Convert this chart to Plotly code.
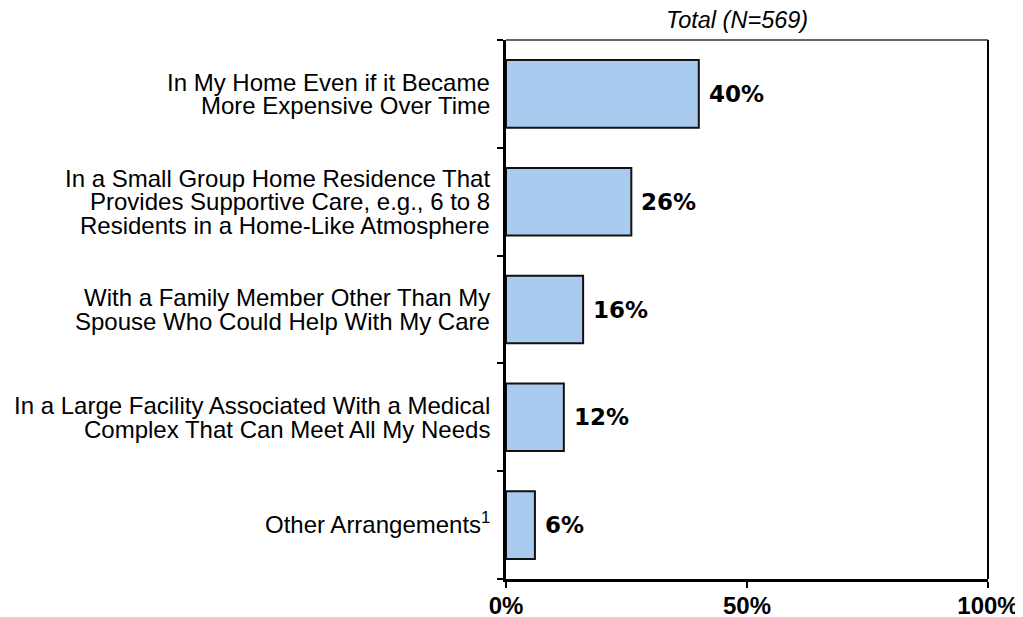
import plotly.graph_objects as go

categories = [
    "In My Home Even if it Became<br>More Expensive Over Time",
    "In a Small Group Home Residence That<br>Provides Supportive Care, e.g., 6 to 8<br>Residents in a Home-Like Atmosphere",
    "With a Family Member Other Than My<br>Spouse Who Could Help With My Care",
    "In a Large Facility Associated With a Medical<br>Complex That Can Meet All My Needs",
    "Other Arrangements<sup>1</sup>",
]
values = [40, 26, 16, 12, 6]
x_tick_vals = [0, 50, 100]
x_tick_text = ["0%", "50%", "100%"]
title_text = "Total (N=569)"

BAR_COLOR = "#A9CBEF"
LABEL_FONT = "Liberation Sans, Arial, sans-serif"
VALUE_FONT = "DejaVu Sans, sans-serif"

fig = go.Figure()
fig.add_trace(go.Bar(
    x=values,
    y=list(range(len(categories))),
    orientation="h",
    marker=dict(color=BAR_COLOR, line=dict(color="#111111", width=2)),
    hoverinfo="skip",
    showlegend=False,
))

annotations = []
# value labels
for i, v in enumerate(values):
    annotations.append(dict(
        x=v, y=i, xref="x", yref="y", text=f"<b>{v}%</b>",
        showarrow=False, xanchor="left", yanchor="middle", xshift=8,
        font=dict(family=VALUE_FONT, size=23, color="black"),
    ))
# category labels, one annotation per line for tight line spacing
LINE_H = 23.4
for i, cat in enumerate(categories):
    lines = cat.split("<br>")
    n = len(lines)
    for j, ln in enumerate(lines):
        annotations.append(dict(
            x=0, y=i, xref="paper", yref="y", text=ln,
            showarrow=False, xanchor="right", yanchor="middle",
            xshift=-14, yshift=((n - 1) / 2 - j) * LINE_H + (2 if "<sup>" in ln else 0),
            font=dict(family=LABEL_FONT, size=24, color="black"),
        ))
# title
annotations.append(dict(
    x=0.479, y=1, xref="paper", yref="paper", text=f"<i>{title_text}</i>",
    showarrow=False, xanchor="center", yanchor="bottom", yshift=5,
    font=dict(family=LABEL_FONT, size=23.5, color="black"),
))

fig.update_layout(
    width=1015, height=609,
    margin=dict(l=498, r=35, t=32, b=38, autoexpand=False),
    paper_bgcolor="white", plot_bgcolor="white",
    bargap=0.373,
    annotations=annotations,
    shapes=[
        dict(type="line", xref="paper", yref="paper", x0=0, x1=1, y0=1, y1=1,
             line=dict(color="#333333", width=1.5)),
        dict(type="line", xref="paper", yref="paper", x0=1, x1=1, y0=0, y1=1,
             line=dict(color="black", width=2)),
    ],
    xaxis=dict(
        range=[0, 100], tickvals=x_tick_vals, ticktext=x_tick_text,
        showgrid=False, zeroline=False, automargin=False,
        showline=True, linecolor="black", linewidth=2.5,
        ticks="outside", ticklen=6, tickwidth=2, tickcolor="black",
        ticklabelstandoff=-3,
        tickfont=dict(family=LABEL_FONT, size=24, color="black", weight="bold"),
    ),
    yaxis=dict(
        range=[len(categories) - 0.5, -0.5],
        tickvals=[i + 0.5 for i in range(-1, len(categories))],
        showticklabels=False, automargin=False,
        showgrid=False, zeroline=False,
        showline=True, linecolor="black", linewidth=2.5,
        ticks="outside", ticklen=6, tickwidth=2, tickcolor="black",
    ),
)

fig.write_html("out.html")
